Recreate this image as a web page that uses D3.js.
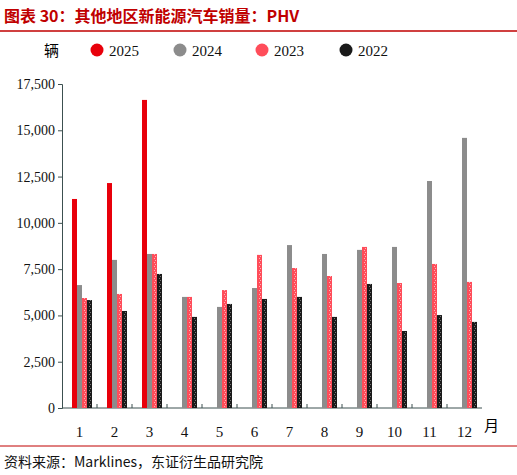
<!DOCTYPE html><html><head><meta charset="utf-8"><script src="https://cdn.jsdelivr.net/npm/d3@7"></script>
<style>body{margin:0;background:#fff;font-family:"Liberation Serif","Noto Sans CJK SC",serif}</style></head><body><svg id="c" width="517" height="475"></svg>
<script>
const months=["1","2","3","4","5","6","7","8","9","10","11","12"];
const series=["2025","2024","2023","2022"];
const colors=["#e8000b","#8c8c8c","#ff4d5a","#1a1a1a"];
const v2025=[11290,12150,16640,null,null,null,null,null,null,null,null,null];
const v2024=[6640,8000,8320,6000,5460,6480,8800,8320,8540,8700,12260,14590];
const v2023=[5940,6160,8320,6000,6370,8270,7560,7130,8700,6750,7780,6810];
const v2022=[5830,5240,7240,4920,5620,5890,6000,4920,6700,4160,5020,4650];
const yTicks=[0,2500,5000,7500,10000,12500,15000,17500];
const data=[v2025,v2024,v2023,v2022];
const svg=d3.select("#c");
const defs=svg.append("defs");
[[2,"#ff4d5a","#ffb0b5"],[3,"#1a1a1a","#777"]].forEach(([i,c,l])=>{
 const p=defs.append("pattern").attr("id","p"+i).attr("width",5).attr("height",4).attr("patternUnits","userSpaceOnUse");
 p.append("rect").attr("width",5).attr("height",4).attr("fill",c);
 p.append("rect").attr("x",4).attr("y",2).attr("width",1).attr("height",1).attr("fill",l);
 p.append("rect").attr("x",0).attr("y",0).attr("width",1).attr("height",1).attr("fill",l);
});
svg.append("text").attr("x",4).attr("y",22).attr("fill","#c00000").attr("font-size",16).attr("font-weight","bold")
 .attr("font-family","Noto Sans CJK SC").text("图表 30：其他地区新能源汽车销量：PHV");
svg.append("line").attr("x1",0).attr("x2",517).attr("y1",31).attr("y2",31).attr("stroke","#c00000").attr("stroke-width",1.5);
const x=d3.scaleBand().domain(months).range([62,482]);
const y=d3.scaleLinear().domain([0,17500]).range([408,84]);
const ax=svg.append("g").attr("transform","translate(62,0)").call(d3.axisLeft(y).tickValues(yTicks).tickFormat(d3.format(",")).tickSize(4));
ax.selectAll("text").attr("font-size",14).attr("font-family","Liberation Serif").attr("fill","#111");
ax.selectAll("line,path").attr("stroke","#3c5050");
const bx=svg.append("g").attr("transform","translate(0,408)").call(d3.axisBottom(x).tickSize(0).tickPadding(18));
bx.selectAll("text").attr("font-size",15).attr("font-family","Liberation Serif").attr("fill","#111");
bx.selectAll("path").attr("stroke","#3c5050").attr("d","M62,0H482");
months.forEach((m,i)=>{if(i>0)svg.append("line").attr("x1",x(m)).attr("x2",x(m)).attr("y1",408).attr("y2",404).attr("stroke","#3c5050");});
const bw=5;
data.forEach((vals,si)=>{
 svg.append("g").selectAll("rect").data(vals.map((v,i)=>[months[i],v]).filter(d=>d[1]!=null)).join("rect")
  .attr("x",d=>x(d[0])+10+si*bw).attr("width",bw).attr("y",d=>y(d[1])).attr("height",d=>408-y(d[1]))
  .attr("fill",si>=2?`url(#p${si})`:colors[si]);
});
svg.append("text").attr("x",484).attr("y",431).attr("font-size",15).attr("font-family","Noto Sans CJK SC").text("月");
svg.append("text").attr("x",44).attr("y",56).attr("font-size",15).attr("font-family","Noto Sans CJK SC").text("辆");
const lx=[97,180,262,346];
series.forEach((s,i)=>{
 svg.append("circle").attr("cx",lx[i]).attr("cy",50).attr("r",6.5).attr("fill",colors[i]);
 svg.append("text").attr("x",lx[i]+12).attr("y",56).attr("font-size",15).attr("font-family","Liberation Serif").attr("fill","#111").text(s);
});
svg.append("line").attr("x1",0).attr("x2",517).attr("y1",446).attr("y2",446).attr("stroke","#c00000").attr("stroke-width",1);
svg.append("text").attr("x",4).attr("y",467).attr("font-size",14).attr("font-family","Noto Sans CJK SC").attr("fill","#111").text("资料来源：Marklines，东证衍生品研究院");
</script></body></html>
